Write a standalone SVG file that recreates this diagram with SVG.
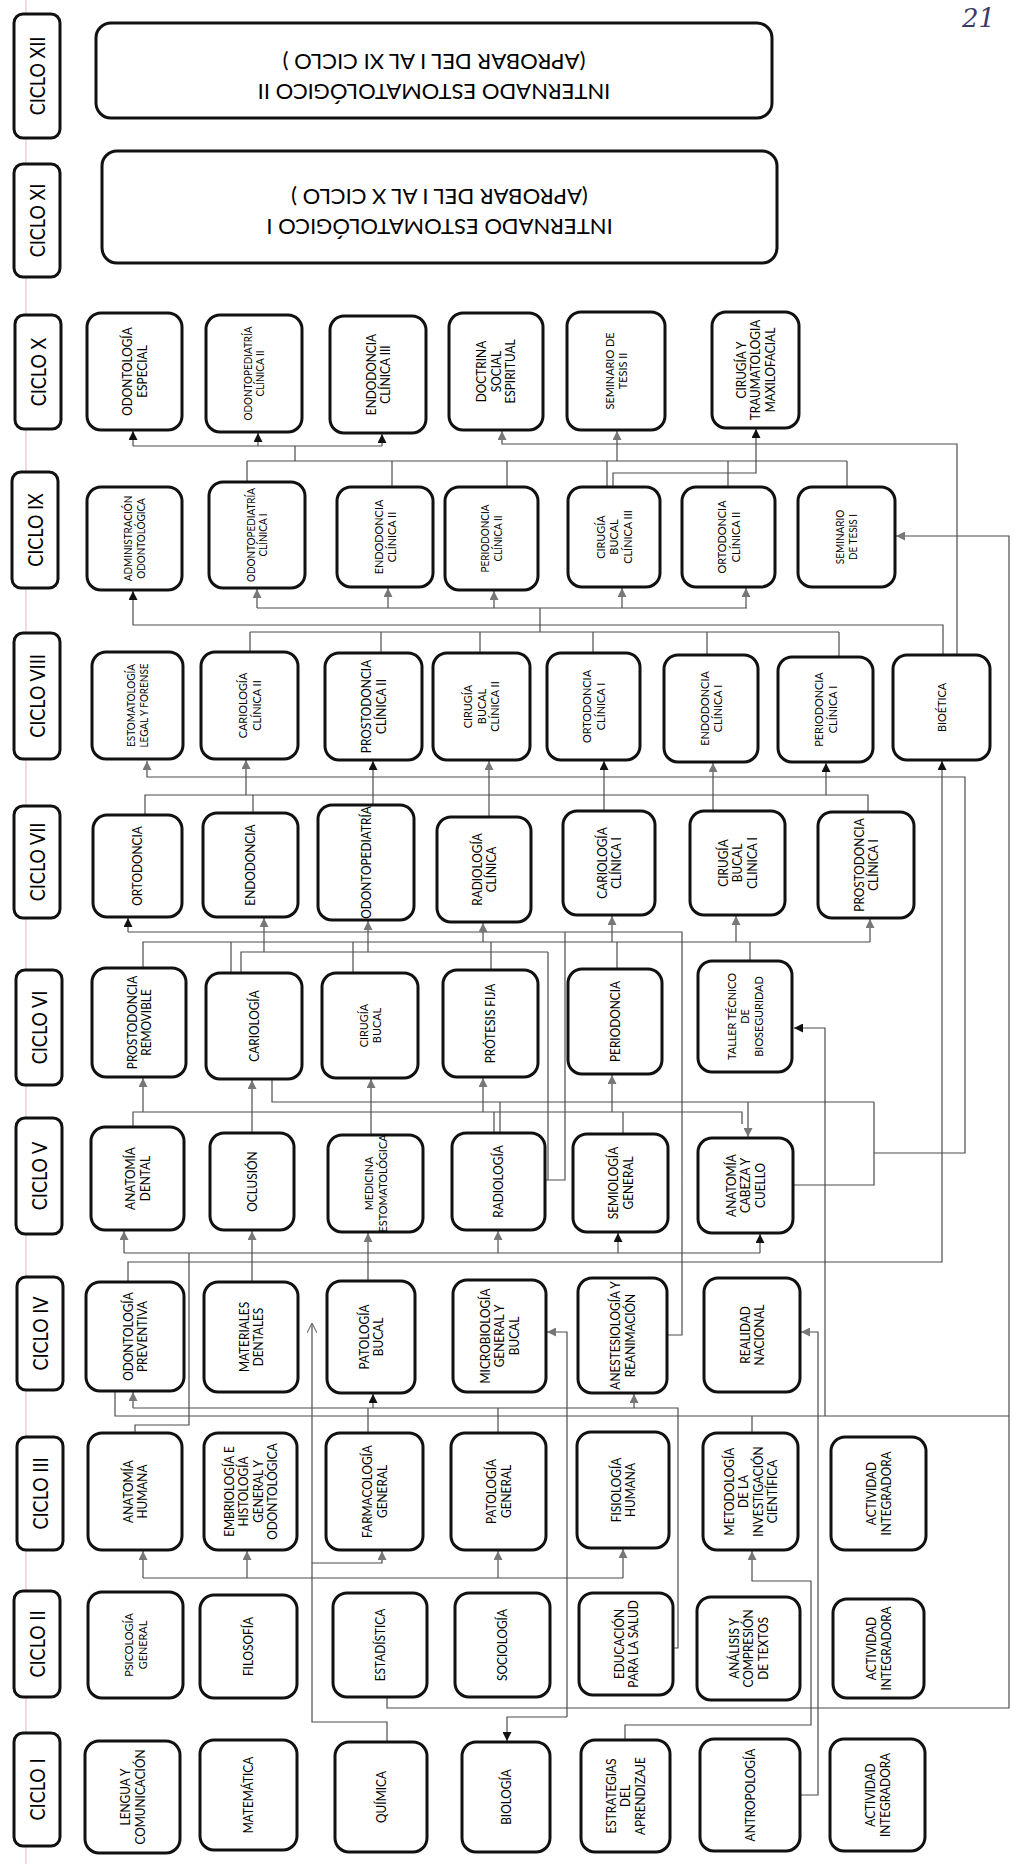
<svg xmlns="http://www.w3.org/2000/svg" width="1015" height="1864" viewBox="0 0 1015 1864">
<style>
.box{fill:#fff;stroke:#111;stroke-width:3}
.t{font-family:Lato,'Open Sans',sans-serif;font-size:13.5px;fill:#000;text-anchor:middle}
.s11{font-size:12.4px}
.s10{font-size:11.3px}
.cl{font-size:22px}
.it{font-size:22px}
.c{fill:none;stroke:#4d4d4d;stroke-width:1.2}
.ab{marker-end:url(#mb)}
.ag{marker-end:url(#mg)}
</style>
<defs>
<marker id="mb" viewBox="0 0 10 10" refX="10" refY="5" markerWidth="9" markerHeight="9" markerUnits="userSpaceOnUse" orient="auto"><path d="M0,0 L10,5 L0,10 z" fill="#111"/></marker>
<marker id="mg" viewBox="0 0 10 10" refX="10" refY="5" markerWidth="9" markerHeight="9" markerUnits="userSpaceOnUse" orient="auto"><path d="M0,0 L10,5 L0,10 z" fill="#777"/></marker>
<marker id="mo" viewBox="0 0 10 10" refX="10" refY="5" markerWidth="10" markerHeight="10" markerUnits="userSpaceOnUse" orient="auto"><path d="M0,0 L10,5 L0,10" fill="none" stroke="#777" stroke-width="1.2"/></marker>
</defs>
<rect width="1015" height="1864" fill="#fff"/>
<line x1="26" y1="0" x2="26" y2="1864" stroke="#f1cdd6" stroke-width="1.5"/>
<text x="962" y="27" font-family="'DejaVu Serif',serif" font-style="italic" font-size="26" fill="#3b3b66">21</text>

<g id="connectors">
<path class="c" d="M133,446 H382 M295,446 V461 M247,461 H847 M247,461 V482 M392,461 V487 M507,461 V487 M607,461 V487 M728,461 V487 M847,461 V487"/>
<path class="c ab" d="M133,446 V431"/>
<path class="c ab" d="M258,446 V433"/>
<path class="c ab" d="M382,446 V434"/>
<path class="c ag" d="M617,461 V431"/>
<path class="c ab" d="M613,487 V473 H756 V429"/>
<path class="c ag" d="M957,655 V444 H502 V431"/>
<path class="c ab" d="M943,655 V625 H133 V591"/>
<path class="c" d="M257,608 H747 M540,608 V632 M250,632 H839 M250,632 V652 M381,632 V653 M480,632 V653 M593,632 V653 M707,632 V655 M839,632 V657"/>
<path class="c ag" d="M257,608 V589"/>
<path class="c ag" d="M388,608 V588"/>
<path class="c ag" d="M494,608 V591"/>
<path class="c ag" d="M622,608 V588"/>
<path class="c ag" d="M746,608 V588"/>
<path class="c ag" d="M387,1697 V1708 H1009 V536 H896"/>
<path class="c ab" d="M373,805 V761"/>
<path class="c ag" d="M489,817 V761"/>
<path class="c ab" d="M604,811 V761"/>
<path class="c ag" d="M713,811 V763"/>
<path class="c" d="M145,815 V795 H868 V812 M253,795 V813"/>
<path class="c ag" d="M246,795 V760"/>
<path class="c ab" d="M826,795 V763"/>
<path class="c ag" d="M793,1185 H874 V1153 H965 V777 H147 V761"/>
<path class="c" d="M874,1153 V1102 M272,1079 V1102 H874"/>
<path class="c ag" d="M748,1102 V1137"/>
<path class="c ab" d="M128,1282 V1262 H942 V761"/>
<path class="c" d="M128,932 H682 V1335 H667 M565,932 V1180 H545 M548,1180 V952"/>
<path class="c ab" d="M128,932 V918"/>
<path class="c" d="M143,968 V942 H870 M231,942 V973 M353,942 V973 M491,942 V970 M617,942 V969 M750,942 V961"/>
<path class="c ag" d="M483,942 V923"/>
<path class="c ag" d="M612,942 V916"/>
<path class="c ag" d="M736,942 V916"/>
<path class="c ag" d="M870,942 V919"/>
<path class="c" d="M241,973 V952 H548"/>
<path class="c ag" d="M264,952 V918"/>
<path class="c ag" d="M368,952 V921"/>
<path class="c ab" d="M825,1416 V1028 H794"/>
<path class="c ag" d="M252,1133 V1080"/>
<path class="c ag" d="M371,1135 V1079"/>
<path class="c" d="M133,1127 V1112 H742 V1124 M494,1112 V1133 M623,1112 V1134 M500,1102 V1133"/>
<path class="c ag" d="M143,1112 V1078"/>
<path class="c ag" d="M483,1112 V1078"/>
<path class="c ag" d="M612,1112 V1075"/>
<path class="c" d="M135,1433 V1425 H189 V1253 M124,1253 H760"/>
<path class="c ag" d="M124,1253 V1231"/>
<path class="c ag" d="M498,1253 V1231"/>
<path class="c ab" d="M618,1253 V1233"/>
<path class="c ab" d="M760,1253 V1234"/>
<path class="c ag" d="M252,1282 V1231"/>
<path class="c ag" d="M368,1281 V1233"/>
<path class="c" d="M133,1408 H678 V1648 H673 M368,1408 V1433 M498,1408 V1433"/>
<path class="c ag" d="M133,1408 V1392"/>
<path class="c ab" d="M373,1408 V1394"/>
<path class="c ag" d="M634,1408 V1394"/>
<path class="c" d="M115,1391 V1416 H1009 M752,1416 V1433"/>
<path class="c ag" d="M800,1795 H818 V1332 H801"/>
<path class="c ag" d="M567,1717 V1332 H547"/>
<path class="c ab" d="M567,1717 H507 V1741"/>
<path class="c ag" d="M387,1742 V1722 H312 V1563 H382 V1551"/>
<path class="c" style="marker-end:url(#mo)" d="M312,1563 V1323"/>
<path class="c" d="M143,1578 H623"/>
<path class="c ag" d="M143,1578 V1551"/>
<path class="c ag" d="M247,1578 V1551"/>
<path class="c ag" d="M498,1578 V1551"/>
<path class="c ag" d="M623,1578 V1549"/>
<path class="c ag" d="M625,1740 V1725 H811 V1581 H752 V1551"/>
</g>

<g id="ciclo-xii"><rect class="box" x="14" y="14" width="46" height="124" rx="9"/><text class="t cl" transform="translate(37,76) rotate(-90) scale(0.82,1)" y="7.8">CICLO XII</text></g>
<g id="ciclo-xi"><rect class="box" x="14" y="164" width="46" height="113" rx="9"/><text class="t cl" transform="translate(37,220.5) rotate(-90) scale(0.82,1)" y="7.8">CICLO XI</text></g>
<g id="ciclo-x"><rect class="box" x="15" y="315" width="46" height="114" rx="9"/><text class="t cl" transform="translate(38,372) rotate(-90) scale(0.82,1)" y="7.8">CICLO X</text></g>
<g id="ciclo-ix"><rect class="box" x="12" y="472" width="46" height="116" rx="9"/><text class="t cl" transform="translate(35,530) rotate(-90) scale(0.82,1)" y="7.8">CICLO IX</text></g>
<g id="ciclo-viii"><rect class="box" x="14" y="633" width="46" height="126" rx="9"/><text class="t cl" transform="translate(37,696) rotate(-90) scale(0.82,1)" y="7.8">CICLO VIII</text></g>
<g id="ciclo-vii"><rect class="box" x="14" y="806" width="46" height="112" rx="9"/><text class="t cl" transform="translate(37,862) rotate(-90) scale(0.82,1)" y="7.8">CICLO VII</text></g>
<g id="ciclo-vi"><rect class="box" x="16" y="970" width="46" height="115" rx="9"/><text class="t cl" transform="translate(39,1027.5) rotate(-90) scale(0.82,1)" y="7.8">CICLO VI</text></g>
<g id="ciclo-v"><rect class="box" x="16" y="1118" width="46" height="116" rx="9"/><text class="t cl" transform="translate(39,1176) rotate(-90) scale(0.82,1)" y="7.8">CICLO V</text></g>
<g id="ciclo-iv"><rect class="box" x="17" y="1277" width="46" height="113" rx="9"/><text class="t cl" transform="translate(40,1333.5) rotate(-90) scale(0.82,1)" y="7.8">CICLO IV</text></g>
<g id="ciclo-iii"><rect class="box" x="17" y="1437" width="46" height="113" rx="9"/><text class="t cl" transform="translate(40,1493.5) rotate(-90) scale(0.82,1)" y="7.8">CICLO III</text></g>
<g id="ciclo-ii"><rect class="box" x="14" y="1591" width="46" height="106" rx="9"/><text class="t cl" transform="translate(37,1644) rotate(-90) scale(0.82,1)" y="7.8">CICLO II</text></g>
<g id="ciclo-i"><rect class="box" x="14" y="1733" width="46" height="113" rx="9"/><text class="t cl" transform="translate(37,1789.5) rotate(-90) scale(0.82,1)" y="7.8">CICLO I</text></g>

<g id="internado-ii"><rect class="box" x="96" y="23" width="676" height="95" rx="15"/>
<text class="t it" transform="rotate(180,434,70.5)"><tspan x="434" y="57">INTERNADO ESTOMATOLÓGICO II</tspan><tspan x="434" y="87">(APROBAR DEL I AL XI CICLO )</tspan></text></g>
<g id="internado-i"><rect class="box" x="102" y="151" width="675" height="112" rx="15"/>
<text class="t it" transform="rotate(180,439.5,207)"><tspan x="439.5" y="195">INTERNADO ESTOMATOLÓGICO I</tspan><tspan x="439.5" y="225">(APROBAR DEL I AL X CICLO )</tspan></text></g>

<g id="odontologia-especial"><rect class="box" x="87" y="313" width="95" height="117" rx="14"/><text class="t" transform="translate(134.5,371.5) rotate(-90) scale(0.88,1)"><tspan x="0" y="-2.5">ODONTOLOGÍA</tspan><tspan x="0" y="12">ESPECIAL</tspan></text></g>
<g id="odontopediatria-clinica-ii"><rect class="box" x="206" y="315" width="96" height="117" rx="14"/><text class="t s10" transform="translate(254,373.5) rotate(-90) scale(0.88,1)"><tspan x="0" y="-2.3">ODONTOPEDIATRÍA</tspan><tspan x="0" y="10.3">CLÍNICA II</tspan></text></g>
<g id="endodoncia-clinica-iii"><rect class="box" x="330" y="316" width="96" height="117" rx="14"/><text class="t" transform="translate(378,374.5) rotate(-90) scale(0.88,1)"><tspan x="0" y="-2.5">ENDODONCIA</tspan><tspan x="0" y="12">CLÍNICA III</tspan></text></g>
<g id="doctrina-social"><rect class="box" x="449" y="313" width="94" height="117" rx="14"/><text class="t" transform="translate(496,371.5) rotate(-90) scale(0.88,1)"><tspan x="0" y="-9.7">DOCTRINA</tspan><tspan x="0" y="4.8">SOCIAL</tspan><tspan x="0" y="19.3">ESPIRITUAL</tspan></text></g>
<g id="seminario-tesis-ii"><rect class="box" x="567" y="312" width="98" height="118" rx="14"/><text class="t s11" transform="translate(616,371) rotate(-90) scale(0.88,1)"><tspan x="0" y="-2.4">SEMINARIO DE</tspan><tspan x="0" y="11.2">TESIS II</tspan></text></g>
<g id="cirugia-traumatologia"><rect class="box" x="712" y="312" width="87" height="116" rx="14"/><text class="t" transform="translate(755.5,370) rotate(-90) scale(0.88,1)"><tspan x="0" y="-9.7">CIRUGÍA Y</tspan><tspan x="0" y="4.8">TRAUMATOLOGIA</tspan><tspan x="0" y="19.3">MAXILOFACIAL</tspan></text></g>

<g id="administracion-odontologica"><rect class="box" x="87" y="487" width="95" height="103" rx="14"/><text class="t s10" transform="translate(134.5,538.5) rotate(-90) scale(0.88,1)"><tspan x="0" y="-2.3">ADMINISTRACIÓN</tspan><tspan x="0" y="10.3">ODONTOLÓGICA</tspan></text></g>
<g id="odontopediatria-clinica-i"><rect class="box" x="209" y="482" width="96" height="106" rx="14"/><text class="t s10" transform="translate(257,535) rotate(-90) scale(0.88,1)"><tspan x="0" y="-2.3">ODONTOPEDIATRÍA</tspan><tspan x="0" y="10.3">CLÍNICA I</tspan></text></g>
<g id="endodoncia-clinica-ii"><rect class="box" x="337" y="487" width="96" height="100" rx="14"/><text class="t s11" transform="translate(385,537) rotate(-90) scale(0.88,1)"><tspan x="0" y="-2.4">ENDODONCIA</tspan><tspan x="0" y="11.2">CLÍNICA II</tspan></text></g>
<g id="periodoncia-clinica-ii"><rect class="box" x="445" y="487" width="93" height="103" rx="14"/><text class="t s10" transform="translate(491.5,538.5) rotate(-90) scale(0.88,1)"><tspan x="0" y="-2.3">PERIODONCIA</tspan><tspan x="0" y="10.3">CLÍNICA II</tspan></text></g>
<g id="cirugia-bucal-clinica-iii"><rect class="box" x="568" y="487" width="92" height="100" rx="14"/><text class="t s11" transform="translate(614,537) rotate(-90) scale(0.88,1)"><tspan x="0" y="-9.1">CIRUGÍA</tspan><tspan x="0" y="4.4">BUCAL</tspan><tspan x="0" y="17.9">CLÍNICA III</tspan></text></g>
<g id="ortodoncia-clinica-ii"><rect class="box" x="682" y="487" width="93" height="100" rx="14"/><text class="t s11" transform="translate(728.5,537) rotate(-90) scale(0.88,1)"><tspan x="0" y="-2.4">ORTODONCIA</tspan><tspan x="0" y="11.2">CLÍNICA II</tspan></text></g>
<g id="seminario-tesis-i"><rect class="box" x="798" y="487" width="97" height="100" rx="14"/><text class="t s10" transform="translate(846.5,537) rotate(-90) scale(0.88,1)"><tspan x="0" y="-2.3">SEMINARIO</tspan><tspan x="0" y="10.3">DE TESIS I</tspan></text></g>

<g id="estomatologia-legal"><rect class="box" x="92" y="652" width="91" height="107" rx="14"/><text class="t s10" transform="translate(137.5,705.5) rotate(-90) scale(0.88,1)"><tspan x="0" y="-2.3">ESTOMATOLOGÍA</tspan><tspan x="0" y="10.3">LEGAL Y FORENSE</tspan></text></g>
<g id="cariologia-clinica-ii"><rect class="box" x="201" y="652" width="97" height="107" rx="14"/><text class="t s11" transform="translate(249.5,705.5) rotate(-90) scale(0.88,1)"><tspan x="0" y="-2.4">CARIOLOGÍA</tspan><tspan x="0" y="11.2">CLÍNICA II</tspan></text></g>
<g id="prostodoncia-clinica-ii"><rect class="box" x="325" y="653" width="97" height="107" rx="14"/><text class="t" transform="translate(373.5,706.5) rotate(-90) scale(0.88,1)"><tspan x="0" y="-2.5">PROSTODONCIA</tspan><tspan x="0" y="12">CLÍNICA II</tspan></text></g>
<g id="cirugia-bucal-clinica-ii"><rect class="box" x="433" y="653" width="97" height="107" rx="14"/><text class="t s11" transform="translate(481.5,706.5) rotate(-90) scale(0.88,1)"><tspan x="0" y="-9.1">CIRUGÍA</tspan><tspan x="0" y="4.4">BUCAL</tspan><tspan x="0" y="17.9">CLÍNICA II</tspan></text></g>
<g id="ortodoncia-clinica-i"><rect class="box" x="547" y="653" width="93" height="107" rx="14"/><text class="t s11" transform="translate(593.5,706.5) rotate(-90) scale(0.88,1)"><tspan x="0" y="-2.4">ORTODONCIA</tspan><tspan x="0" y="11.2">CLÍNICA I</tspan></text></g>
<g id="endodoncia-clinica-i"><rect class="box" x="664" y="655" width="94" height="107" rx="14"/><text class="t s11" transform="translate(711,708.5) rotate(-90) scale(0.88,1)"><tspan x="0" y="-2.4">ENDODONCIA</tspan><tspan x="0" y="11.2">CLÍNICA I</tspan></text></g>
<g id="periodoncia-clinica-i"><rect class="box" x="778" y="657" width="95" height="105" rx="14"/><text class="t s11" transform="translate(825.5,709.5) rotate(-90) scale(0.88,1)"><tspan x="0" y="-2.4">PERIODONCIA</tspan><tspan x="0" y="11.2">CLÍNICA I</tspan></text></g>
<g id="bioetica"><rect class="box" x="893" y="655" width="97" height="105" rx="14"/><text class="t s11" transform="translate(941.5,707.5) rotate(-90) scale(0.88,1)" y="4.4">BIOÉTICA</text></g>

<g id="ortodoncia"><rect class="box" x="93" y="815" width="89" height="102" rx="14"/><text class="t" transform="translate(137.5,866) rotate(-90) scale(0.88,1)" y="4.8">ORTODONCIA</text></g>
<g id="endodoncia"><rect class="box" x="203" y="813" width="95" height="104" rx="14"/><text class="t" transform="translate(250.5,865) rotate(-90) scale(0.88,1)" y="4.8">ENDODONCIA</text></g>
<g id="odontopediatria"><rect class="box" x="318" y="805" width="96" height="115" rx="14"/><text class="t" transform="translate(366,862.5) rotate(-90) scale(0.88,1)" y="4.8">ODONTOPEDIATRÍA</text></g>
<g id="radiologia-clinica"><rect class="box" x="437" y="817" width="94" height="105" rx="14"/><text class="t" transform="translate(484,869.5) rotate(-90) scale(0.88,1)"><tspan x="0" y="-2.5">RADIOLOGÍA</tspan><tspan x="0" y="12">CLÍNICA</tspan></text></g>
<g id="cariologia-clinica-i"><rect class="box" x="563" y="811" width="92" height="104" rx="14"/><text class="t" transform="translate(609,863) rotate(-90) scale(0.88,1)"><tspan x="0" y="-2.5">CARIOLOGÍA</tspan><tspan x="0" y="12">CLÍNICA I</tspan></text></g>
<g id="cirugia-bucal-clinica-i"><rect class="box" x="690" y="811" width="95" height="104" rx="14"/><text class="t" transform="translate(737.5,863) rotate(-90) scale(0.88,1)"><tspan x="0" y="-9.7">CIRUGÍA</tspan><tspan x="0" y="4.8">BUCAL</tspan><tspan x="0" y="19.3">CLINICA I</tspan></text></g>
<g id="prostodoncia-clinica-i"><rect class="box" x="818" y="812" width="96" height="106" rx="14"/><text class="t" transform="translate(866,865) rotate(-90) scale(0.88,1)"><tspan x="0" y="-2.5">PROSTODONCIA</tspan><tspan x="0" y="12">CLÍNICA I</tspan></text></g>

<g id="prostodoncia-removible"><rect class="box" x="92" y="968" width="94" height="109" rx="14"/><text class="t" transform="translate(139,1022.5) rotate(-90) scale(0.88,1)"><tspan x="0" y="-2.5">PROSTODONCIA</tspan><tspan x="0" y="12">REMOVIBLE</tspan></text></g>
<g id="cariologia"><rect class="box" x="206" y="973" width="96" height="106" rx="14"/><text class="t" transform="translate(254,1026) rotate(-90) scale(0.88,1)" y="4.8">CARIOLOGÍA</text></g>
<g id="cirugia-bucal"><rect class="box" x="322" y="973" width="96" height="105" rx="14"/><text class="t s11" transform="translate(370,1025.5) rotate(-90) scale(0.88,1)"><tspan x="0" y="-2.4">CIRUGÍA</tspan><tspan x="0" y="11.2">BUCAL</tspan></text></g>
<g id="protesis-fija"><rect class="box" x="443" y="970" width="95" height="107" rx="14"/><text class="t" transform="translate(490.5,1023.5) rotate(-90) scale(0.88,1)" y="4.8">PRÓTESIS FIJA</text></g>
<g id="periodoncia"><rect class="box" x="568" y="969" width="94" height="105" rx="14"/><text class="t" transform="translate(615,1021.5) rotate(-90) scale(0.88,1)" y="4.8">PERIODONCIA</text></g>
<g id="taller-bioseguridad"><rect class="box" x="698" y="961" width="94" height="111" rx="14"/><text class="t s11" transform="translate(745,1016.5) rotate(-90) scale(0.88,1)"><tspan x="0" y="-9.1">TALLER TÉCNICO</tspan><tspan x="0" y="4.4">DE</tspan><tspan x="0" y="17.9">BIOSEGURIDAD</tspan></text></g>

<g id="anatomia-dental"><rect class="box" x="91" y="1127" width="93" height="103" rx="14"/><text class="t" transform="translate(137.5,1178.5) rotate(-90) scale(0.88,1)"><tspan x="0" y="-2.5">ANATOMÍA</tspan><tspan x="0" y="12">DENTAL</tspan></text></g>
<g id="oclusion"><rect class="box" x="210" y="1133" width="84" height="97" rx="14"/><text class="t" transform="translate(252,1181.5) rotate(-90) scale(0.88,1)" y="4.8">OCLUSIÓN</text></g>
<g id="medicina-estomatologica"><rect class="box" x="328" y="1135" width="95" height="97" rx="14"/><text class="t s11" transform="translate(375.5,1183.5) rotate(-90) scale(0.88,1)"><tspan x="0" y="-2.4">MEDICINA</tspan><tspan x="0" y="11.2">ESTOMATOLÓGICA</tspan></text></g>
<g id="radiologia"><rect class="box" x="452" y="1133" width="93" height="97" rx="14"/><text class="t" transform="translate(498.5,1181.5) rotate(-90) scale(0.88,1)" y="4.8">RADIOLOGÍA</text></g>
<g id="semiologia-general"><rect class="box" x="573" y="1134" width="95" height="98" rx="14"/><text class="t" transform="translate(620.5,1183) rotate(-90) scale(0.88,1)"><tspan x="0" y="-2.5">SEMIOLOGÍA</tspan><tspan x="0" y="12">GENERAL</tspan></text></g>
<g id="anatomia-cabeza-cuello"><rect class="box" x="698" y="1138" width="95" height="95" rx="14"/><text class="t" transform="translate(745.5,1185.5) rotate(-90) scale(0.88,1)"><tspan x="0" y="-9.7">ANATOMÍA</tspan><tspan x="0" y="4.8">CABEZA Y</tspan><tspan x="0" y="19.3">CUELLO</tspan></text></g>

<g id="odontologia-preventiva"><rect class="box" x="86" y="1282" width="98" height="109" rx="14"/><text class="t" transform="translate(135,1336.5) rotate(-90) scale(0.88,1)"><tspan x="0" y="-2.5">ODONTOLOGÍA</tspan><tspan x="0" y="12">PREVENTIVA</tspan></text></g>
<g id="materiales-dentales"><rect class="box" x="204" y="1282" width="94" height="110" rx="14"/><text class="t" transform="translate(251,1337) rotate(-90) scale(0.88,1)"><tspan x="0" y="-2.5">MATERIALES</tspan><tspan x="0" y="12">DENTALES</tspan></text></g>
<g id="patologia-bucal"><rect class="box" x="327" y="1281" width="88" height="112" rx="14"/><text class="t" transform="translate(371,1337) rotate(-90) scale(0.88,1)"><tspan x="0" y="-2.5">PATOLOGÍA</tspan><tspan x="0" y="12">BUCAL</tspan></text></g>
<g id="microbiologia"><rect class="box" x="453" y="1280" width="93" height="112" rx="14"/><text class="t" transform="translate(499.5,1336) rotate(-90) scale(0.88,1)"><tspan x="0" y="-9.7">MICROBIOLOGÍA</tspan><tspan x="0" y="4.8">GENERAL Y</tspan><tspan x="0" y="19.3">BUCAL</tspan></text></g>
<g id="anestesiologia"><rect class="box" x="578" y="1278" width="89" height="115" rx="14"/><text class="t" transform="translate(622.5,1335.5) rotate(-90) scale(0.88,1)"><tspan x="0" y="-2.5">ANESTESIOLOGÍA Y</tspan><tspan x="0" y="12">REANIMACIÓN</tspan></text></g>
<g id="realidad-nacional"><rect class="box" x="704" y="1278" width="96" height="114" rx="14"/><text class="t" transform="translate(752,1335) rotate(-90) scale(0.88,1)"><tspan x="0" y="-2.5">REALIDAD</tspan><tspan x="0" y="12">NACIONAL</tspan></text></g>

<g id="anatomia-humana"><rect class="box" x="88" y="1433" width="94" height="117" rx="14"/><text class="t" transform="translate(135,1491.5) rotate(-90) scale(0.88,1)"><tspan x="0" y="-2.5">ANATOMÍA</tspan><tspan x="0" y="12">HUMANA</tspan></text></g>
<g id="embriologia"><rect class="box" x="204" y="1433" width="93" height="117" rx="14"/><text class="t" transform="translate(250.5,1491.5) rotate(-90) scale(0.88,1)"><tspan x="0" y="-16.9">EMBRIOLOGÍA E</tspan><tspan x="0" y="-2.4">HISTOLOGÍA</tspan><tspan x="0" y="12.1">GENERAL Y</tspan><tspan x="0" y="26.6">ODONTOLÓGICA</tspan></text></g>
<g id="farmacologia-general"><rect class="box" x="326" y="1433" width="97" height="117" rx="14"/><text class="t" transform="translate(374.5,1491.5) rotate(-90) scale(0.88,1)"><tspan x="0" y="-2.5">FARMACOLOGÍA</tspan><tspan x="0" y="12">GENERAL</tspan></text></g>
<g id="patologia-general"><rect class="box" x="451" y="1433" width="95" height="117" rx="14"/><text class="t" transform="translate(498.5,1491.5) rotate(-90) scale(0.88,1)"><tspan x="0" y="-2.5">PATOLOGÍA</tspan><tspan x="0" y="12">GENERAL</tspan></text></g>
<g id="fisiologia-humana"><rect class="box" x="577" y="1432" width="92" height="116" rx="14"/><text class="t" transform="translate(623,1490) rotate(-90) scale(0.88,1)"><tspan x="0" y="-2.5">FISIOLOGÍA</tspan><tspan x="0" y="12">HUMANA</tspan></text></g>
<g id="metodologia"><rect class="box" x="703" y="1433" width="95" height="117" rx="14"/><text class="t" transform="translate(750.5,1491.5) rotate(-90) scale(0.88,1)"><tspan x="0" y="-16.9">METODOLOGÍA</tspan><tspan x="0" y="-2.4">DE LA</tspan><tspan x="0" y="12.1">INVESTIGACIÓN</tspan><tspan x="0" y="26.6">CIENTÍFICA</tspan></text></g>
<g id="actividad-integradora-iii"><rect class="box" x="831" y="1437" width="95" height="113" rx="14"/><text class="t" transform="translate(878.5,1493.5) rotate(-90) scale(0.88,1)"><tspan x="0" y="-2.5">ACTIVIDAD</tspan><tspan x="0" y="12">INTEGRADORA</tspan></text></g>

<g id="psicologia-general"><rect class="box" x="88" y="1592" width="95" height="106" rx="14"/><text class="t s11" transform="translate(135.5,1645) rotate(-90) scale(0.88,1)"><tspan x="0" y="-2.4">PSICOLOGÍA</tspan><tspan x="0" y="11.2">GENERAL</tspan></text></g>
<g id="filosofia"><rect class="box" x="200" y="1595" width="97" height="103" rx="14"/><text class="t" transform="translate(248.5,1646.5) rotate(-90) scale(0.88,1)" y="4.8">FILOSOFÍA</text></g>
<g id="estadistica"><rect class="box" x="333" y="1593" width="94" height="104" rx="14"/><text class="t" transform="translate(380,1645) rotate(-90) scale(0.88,1)" y="4.8">ESTADÍSTICA</text></g>
<g id="sociologia"><rect class="box" x="455" y="1593" width="95" height="104" rx="14"/><text class="t" transform="translate(502.5,1645) rotate(-90) scale(0.88,1)" y="4.8">SOCIOLOGÍA</text></g>
<g id="educacion-salud"><rect class="box" x="579" y="1593" width="94" height="102" rx="14"/><text class="t" transform="translate(626,1644) rotate(-90) scale(0.88,1)"><tspan x="0" y="-2.5">EDUCACIÓN</tspan><tspan x="0" y="12">PARA LA SALUD</tspan></text></g>
<g id="analisis-textos"><rect class="box" x="697" y="1597" width="103" height="103" rx="14"/><text class="t" transform="translate(748.5,1648.5) rotate(-90) scale(0.88,1)"><tspan x="0" y="-9.7">ANÁLISIS Y</tspan><tspan x="0" y="4.8">COMPRESIÓN</tspan><tspan x="0" y="19.3">DE TEXTOS</tspan></text></g>
<g id="actividad-integradora-ii"><rect class="box" x="833" y="1599" width="91" height="99" rx="14"/><text class="t" transform="translate(878.5,1648.5) rotate(-90) scale(0.88,1)"><tspan x="0" y="-2.5">ACTIVIDAD</tspan><tspan x="0" y="12">INTEGRADORA</tspan></text></g>

<g id="lengua-comunicacion"><rect class="box" x="85" y="1741" width="95" height="112" rx="14"/><text class="t" transform="translate(132.5,1797) rotate(-90) scale(0.88,1)"><tspan x="0" y="-2.5">LENGUA Y</tspan><tspan x="0" y="12">COMUNICACIÓN</tspan></text></g>
<g id="matematica"><rect class="box" x="200" y="1740" width="97" height="110" rx="14"/><text class="t" transform="translate(248.5,1795) rotate(-90) scale(0.88,1)" y="4.8">MATEMÁTICA</text></g>
<g id="quimica"><rect class="box" x="335" y="1742" width="92" height="110" rx="14"/><text class="t" transform="translate(381,1797) rotate(-90) scale(0.88,1)" y="4.8">QUÍMICA</text></g>
<g id="biologia"><rect class="box" x="462" y="1742" width="88" height="110" rx="14"/><text class="t" transform="translate(506,1797) rotate(-90) scale(0.88,1)" y="4.8">BIOLOGÍA</text></g>
<g id="estrategias-aprendizaje"><rect class="box" x="581" y="1740" width="89" height="112" rx="14"/><text class="t" transform="translate(625.5,1796) rotate(-90) scale(0.88,1)"><tspan x="0" y="-9.7">ESTRATEGIAS</tspan><tspan x="0" y="4.8">DEL</tspan><tspan x="0" y="19.3">APRENDIZAJE</tspan></text></g>
<g id="antropologia"><rect class="box" x="700" y="1739" width="100" height="112" rx="14"/><text class="t" transform="translate(750,1795) rotate(-90) scale(0.88,1)" y="4.8">ANTROPOLOGÍA</text></g>
<g id="actividad-integradora-i"><rect class="box" x="830" y="1739" width="95" height="112" rx="14"/><text class="t" transform="translate(877.5,1795) rotate(-90) scale(0.88,1)"><tspan x="0" y="-2.5">ACTIVIDAD</tspan><tspan x="0" y="12">INTEGRADORA</tspan></text></g>
</svg>
